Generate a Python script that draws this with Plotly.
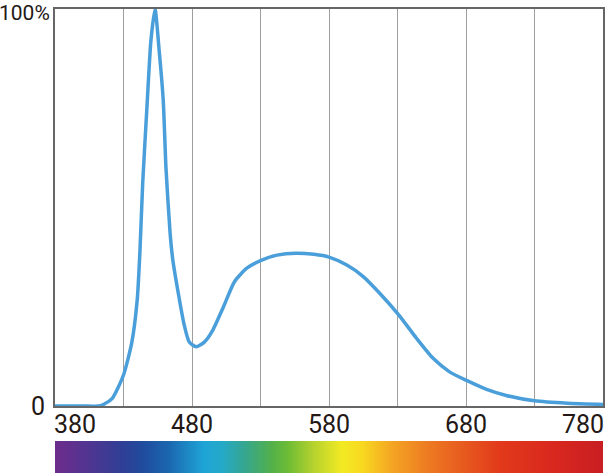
import plotly.graph_objects as go

# Spectral distribution (relative intensity, %)
wavelength = [380, 400, 412, 416, 422, 430, 436, 440, 442, 444, 447, 450, 453, 456, 459,
              461, 464, 466, 470, 474, 478, 483, 489, 495, 503, 511, 520, 530, 542, 556,
              569, 580, 593, 605, 617, 631, 644, 656, 668, 680, 695, 710, 730, 754, 780]
intensity = [0, 0, 0, 0.5, 2, 7.8, 15.9, 26.7, 39, 56, 74.6, 92, 100, 89.7, 77,
             60, 43.6, 36.8, 28.4, 20.9, 16.1, 14.9, 16.1, 19, 25, 31.3, 34.7, 36.6, 38, 38.5,
             38.2, 37.5, 35.5, 32.6, 28.4, 22.9, 17, 12, 8.6, 6.5, 4.2, 2.6, 1.3, 0.7, 0.4]

# Tick labels
x_tick_vals = [380, 480, 580, 680, 780]
x_tick_text = ["380", "480", "580", "680", "780"]
y_tick_vals = [0, 100]
y_tick_text = ["0", "100%"]

# Colour bar stops (wavelength -> colour)
bar_wl = [380, 392, 429, 444, 462, 489, 502, 518, 538, 549, 568, 589, 604, 625, 651, 678, 704, 743, 780]
bar_colors = ["#6B2D8C", "#60308E", "#2F3F95", "#1F4C9E", "#1B65AE", "#1EA5D6", "#25A9C8",
              "#35A690", "#52B04A", "#6CBB35", "#B5D22E", "#F2EA23", "#F8D820", "#F4A623",
              "#ED7C22", "#E75A1F", "#E23A1B", "#D9281E", "#C81E23"]

TEXT = "#231815"
FONT = "Roboto"

fig = go.Figure()

fig.add_trace(go.Scatter(
    x=wavelength, y=intensity, mode="lines",
    line=dict(color="#4A9FDA", width=3.5, shape="spline", smoothing=0.6),
    hoverinfo="skip", showlegend=False, xaxis="x", yaxis="y"))

colorscale = [[(w - bar_wl[0]) / (bar_wl[-1] - bar_wl[0]), c] for w, c in zip(bar_wl, bar_colors)]
fig.add_trace(go.Heatmap(
    x=bar_wl, y=[0, 1], z=[bar_wl, bar_wl], zsmooth="best",
    colorscale=colorscale, zmin=bar_wl[0], zmax=bar_wl[-1],
    showscale=False, hoverinfo="skip", xaxis="x2", yaxis="y2"))

main_bottom = (473 - 406) / 464
bar_top = (473 - 441) / 464
label_mid = (473 - 424) / 464

fig.update_layout(
    width=609, height=473,
    margin=dict(l=55, r=6, t=9, b=0),
    paper_bgcolor="white", plot_bgcolor="white",
    xaxis=dict(range=[380, 780], dtick=50, tick0=380, showgrid=True,
               gridcolor="#9E9E9E", gridwidth=1.3, showline=True, mirror=True,
               linecolor="#666666", linewidth=1.8, showticklabels=False, ticks="",
               zeroline=False, fixedrange=True),
    yaxis=dict(range=[0, 100], domain=[main_bottom, 1], showgrid=False,
               showline=True, mirror=True, linecolor="#666666", linewidth=1.8,
               showticklabels=False, ticks="", zeroline=False, fixedrange=True),
    xaxis2=dict(range=[380, 780], anchor="y2", visible=False, fixedrange=True),
    yaxis2=dict(range=[-0.5, 1.5], domain=[0, bar_top], anchor="x2", visible=False,
                fixedrange=True),
)

annotations = []
for v, t in zip(x_tick_vals, x_tick_text):
    anchor = "center"
    xs = 0
    if v == x_tick_vals[0]:
        anchor, xs = "left", -2
    elif v == x_tick_vals[-1]:
        anchor, xs = "right", 2
    annotations.append(dict(x=v, y=label_mid, xref="x", yref="paper", text=t,
                            showarrow=False, xanchor=anchor, yanchor="middle", xshift=xs,
                            borderpad=0, font=dict(family=FONT, size=25, color=TEXT)))
annotations.append(dict(x=0, y=y_tick_vals[0], xref="paper", yref="y", text=y_tick_text[0],
                        showarrow=False, xanchor="right", yanchor="middle", xshift=-9,
                        borderpad=0, font=dict(family=FONT, size=25, color=TEXT)))
annotations.append(dict(x=0, y=y_tick_vals[1], xref="paper", yref="y", text=y_tick_text[1],
                        showarrow=False, xanchor="right", yanchor="top", xshift=-4,
                        yshift=9, borderpad=0, font=dict(family=FONT, size=21, color=TEXT)))
fig.update_layout(annotations=annotations)

fig.write_html("out.html", config={"displayModeBar": False},
               post_script="document.body.style.margin='0px';document.body.style.overflow='hidden';")
